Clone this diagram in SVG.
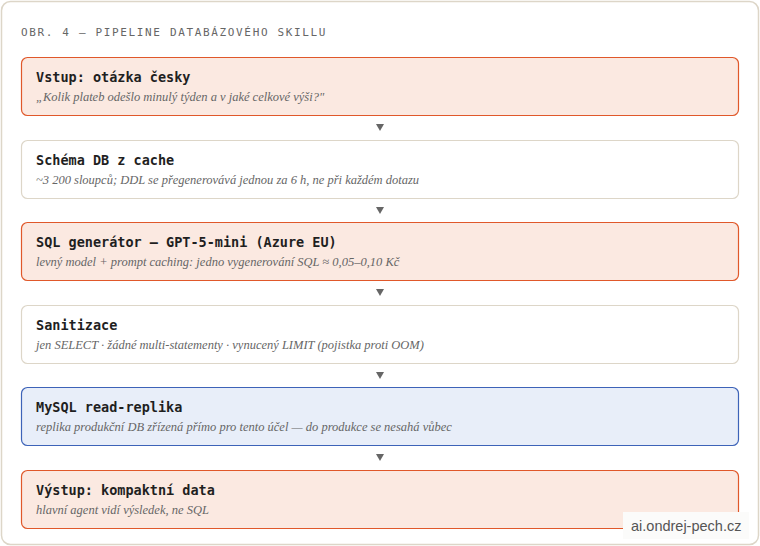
<svg xmlns="http://www.w3.org/2000/svg" width="760" height="546" viewBox="0 0 760 546">
<style>
.card{fill:#ffffff;stroke:#ddd6c8;stroke-width:1.5}
.hdr{font-family:"DejaVu Sans Mono",monospace;font-size:11px;letter-spacing:1.65px;fill:#666}
.orange{fill:#fbe9e1;stroke:#e0582a;stroke-width:1.2}
.plain{fill:#ffffff;stroke:#ddd6c8;stroke-width:1.2}
.blue{fill:#e8eef9;stroke:#3d63b8;stroke-width:1.2}
.t{font-family:"DejaVu Sans Mono",monospace;font-weight:bold;font-size:13.5px;fill:#1f1f1f}
.s{font-family:"Liberation Serif",serif;font-style:italic;font-size:12.5px;fill:#666}
.arr{fill:#666}
.wm{font-family:"Liberation Sans",Arial,sans-serif;font-size:14.5px;fill:#555}
</style>
<rect x="0" y="0" width="760" height="546" fill="#ffffff"/>
<rect class="card" x="1.5" y="1.5" width="757" height="543" rx="9"/>
<text class="hdr" x="21" y="36">OBR. 4 — PIPELINE DATABÁZOVÉHO SKILLU</text>
<g id="connectors">
<path class="arr" d="M376 124h8l-4 7z"/>
<path class="arr" d="M376 207h8l-4 7z"/>
<path class="arr" d="M376 289h8l-4 7z"/>
<path class="arr" d="M376 372h8l-4 7z"/>
<path class="arr" d="M376 454h8l-4 7z"/>
</g>
<g id="n1">
<rect class="orange" x="21.5" y="57.5" width="717" height="58" rx="6"/>
<text class="t" x="36" y="82">Vstup: otázka česky</text>
<text class="s" x="36" y="101">„Kolik plateb odešlo minulý týden a v jaké celkové výši?"</text>
</g>
<g id="n2">
<rect class="plain" x="21.5" y="140.5" width="717" height="58" rx="6"/>
<text class="t" x="36" y="165">Schéma DB z cache</text>
<text class="s" x="36" y="184">~3 200 sloupců; DDL se přegenerovává jednou za 6 h, ne při každém dotazu</text>
</g>
<g id="n3">
<rect class="orange" x="21.5" y="222.5" width="717" height="58" rx="6"/>
<text class="t" x="36" y="247">SQL generátor — GPT-5-mini (Azure EU)</text>
<text class="s" x="36" y="266">levný model + prompt caching: jedno vygenerování SQL ≈ 0,05–0,10 Kč</text>
</g>
<g id="n4">
<rect class="plain" x="21.5" y="305.5" width="717" height="58" rx="6"/>
<text class="t" x="36" y="330">Sanitizace</text>
<text class="s" x="36" y="349">jen SELECT · žádné multi-statementy · vynucený LIMIT (pojistka proti OOM)</text>
</g>
<g id="n5">
<rect class="blue" x="21.5" y="387.5" width="717" height="58" rx="6"/>
<text class="t" x="36" y="412">MySQL read-replika</text>
<text class="s" x="36" y="431">replika produkční DB zřízená přímo pro tento účel — do produkce se nesahá vůbec</text>
</g>
<g id="n6">
<rect class="orange" x="21.5" y="470.5" width="717" height="58" rx="6"/>
<text class="t" x="36" y="495">Výstup: kompaktní data</text>
<text class="s" x="36" y="514">hlavní agent vidí výsledek, ne SQL</text>
</g>
<g id="watermark">
<rect x="623" y="512" width="126" height="27" fill="#fbfbfa"/>
<text class="wm" x="631" y="531">ai.ondrej-pech.cz</text>
</g>
</svg>
